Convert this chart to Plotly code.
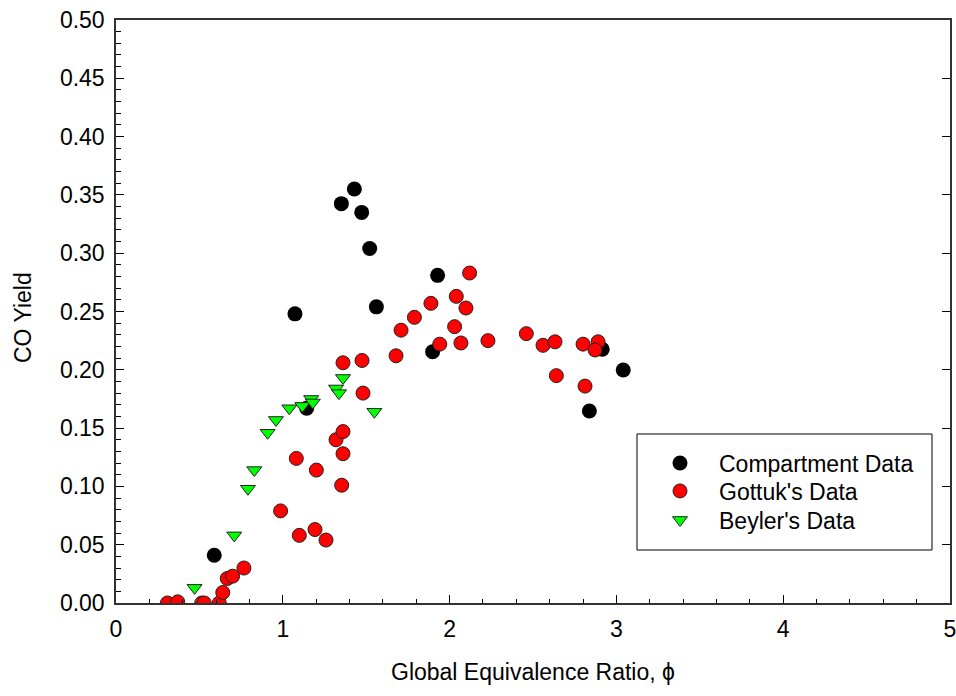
import plotly.graph_objects as go

# Compartment data (black circles)
comp_x = [0.589, 1.073, 1.143, 1.351, 1.429, 1.473, 1.521, 1.561, 1.928, 1.898, 2.915, 3.041, 2.838]
comp_y = [0.041, 0.248, 0.167, 0.3425, 0.355, 0.335, 0.304, 0.254, 0.281, 0.2155, 0.2176, 0.1998, 0.1647]

# Gottuk's data (red circles)
gott_x = [0.308, 0.370, 0.514, 0.529, 0.619, 0.640, 0.667, 0.699, 0.767, 0.987, 1.099, 1.193,
          1.259, 1.081, 1.201, 1.319, 1.361, 1.361, 1.353, 1.361, 1.475, 1.481, 1.679, 1.709,
          1.789, 1.888, 2.120, 2.040, 2.098, 2.030, 1.941, 2.068, 2.230, 2.460, 2.560, 2.632,
          2.800, 2.890, 2.872, 2.640, 2.812]
gott_y = [0.000, 0.001, 0.000, 0.000, 0.000, 0.009, 0.021, 0.023, 0.030, 0.079, 0.058, 0.063,
          0.054, 0.124, 0.114, 0.140, 0.147, 0.128, 0.101, 0.206, 0.208, 0.180, 0.212, 0.234,
          0.245, 0.257, 0.283, 0.263, 0.253, 0.237, 0.222, 0.223, 0.225, 0.231, 0.221, 0.224,
          0.222, 0.224, 0.217, 0.195, 0.186]

# Beyler's data (green down-triangles)
bey_x = [0.471, 0.709, 0.791, 0.829, 0.909, 0.959, 1.039, 1.117, 1.170, 1.180, 1.319, 1.337, 1.361, 1.549]
bey_y = [0.013, 0.058, 0.098, 0.114, 0.146, 0.157, 0.167, 0.169, 0.175, 0.172, 0.184, 0.180, 0.193, 0.164]

x_ticks = [0, 1, 2, 3, 4, 5]
y_ticks = [0.00, 0.05, 0.10, 0.15, 0.20, 0.25, 0.30, 0.35, 0.40, 0.45, 0.50]

FONT = "Liberation Sans, Arial, sans-serif"

# plot area in pixels
L, R, T, B = 116, 950, 20, 603
W, H = R - L, B - T


def px_x(p):
    return (p - L) / W


def px_y(p):
    return (B - p) / H


fig = go.Figure()
fig.add_trace(go.Scatter(x=comp_x, y=comp_y, mode="markers", name="Compartment Data",
                         legend="legend",
                         marker=dict(symbol="circle", size=15, color="black",
                                     line=dict(color="black", width=0))))
fig.add_trace(go.Scatter(x=gott_x, y=gott_y, mode="markers", name="Gottuk's Data",
                         legend="legend2",
                         marker=dict(symbol="circle", size=14, color="#ff0000",
                                     line=dict(color="#222222", width=1))))
fig.add_trace(go.Scatter(x=bey_x, y=bey_y, mode="markers", name="Beyler's Data",
                         legend="legend3",
                         marker=dict(symbol="triangle-down", size=13, color="#00ff00",
                                     line=dict(color="#222222", width=1))))
# right-side axis carrier (no data)
fig.add_trace(go.Scatter(x=[], y=[], yaxis="y2", showlegend=False, hoverinfo="skip"))

# legend frame
fig.add_shape(type="rect", xref="paper", yref="paper",
              x0=px_x(637), x1=px_x(932), y0=px_y(550), y1=px_y(434),
              line=dict(color="black", width=1), fillcolor="white", layer="below")

leg_common = dict(xanchor="left", yanchor="middle", bgcolor="rgba(0,0,0,0)",
                  borderwidth=0, itemwidth=68,
                  font=dict(family=FONT, size=23, color="black"))

fig.update_layout(
    width=956, height=696,
    margin=dict(l=L, r=956 - R, t=T, b=696 - B, autoexpand=False),
    paper_bgcolor="white", plot_bgcolor="white",
    font=dict(family=FONT, size=23, color="black"),
    showlegend=True,
    legend=dict(x=px_x(641), y=px_y(463), **leg_common),
    legend2=dict(x=px_x(641), y=px_y(491), **leg_common),
    legend3=dict(x=px_x(641), y=px_y(520), **leg_common),
    xaxis=dict(range=[0, 5], tickvals=x_ticks, ticktext=[str(v) for v in x_ticks],
               ticks="inside", ticklen=8, tickwidth=1, tickcolor="black",
               minor=dict(dtick=0.2, ticks="inside", ticklen=4, tickcolor="black"),
               showline=True, linecolor="#333333", linewidth=1.5, mirror=True,
               showgrid=False, zeroline=False, ticklabelstandoff=5, automargin=False,
               ticklabeloverflow="allow", tickfont=dict(family=FONT, size=23)),
    yaxis=dict(range=[0, 0.5], tickvals=y_ticks, tickformat=".2f",
               ticks="inside", ticklen=8, tickwidth=1, tickcolor="black",
               minor=dict(dtick=0.01, ticks="inside", ticklen=5, tickcolor="black"),
               showline=True, linecolor="#333333", linewidth=1.5,
               showgrid=False, zeroline=False, ticklabelstandoff=5, automargin=False,
               ticklabeloverflow="allow", tickfont=dict(family=FONT, size=23)),
    yaxis2=dict(range=[0, 0.5], overlaying="y", side="right", tickvals=y_ticks,
                showticklabels=False, ticks="inside", ticklen=8, tickcolor="black",
                showline=True, linecolor="#333333", linewidth=1.5,
                showgrid=False, zeroline=False, automargin=False),
    annotations=[
        dict(text="Global Equivalence Ratio, ϕ", xref="paper", yref="paper",
             x=px_x(533), y=px_y(672), xanchor="center", yanchor="middle",
             showarrow=False, font=dict(family=FONT, size=23, color="black")),
        dict(text="CO Yield", xref="paper", yref="paper", textangle=-90,
             x=px_x(23), y=px_y(318), xanchor="center", yanchor="middle",
             showarrow=False, font=dict(family=FONT, size=23, color="black")),
    ],
)

fig.write_html("out.html", config={"displayModeBar": False},
               post_script="document.body.style.margin='0';document.body.style.overflow='hidden';")
